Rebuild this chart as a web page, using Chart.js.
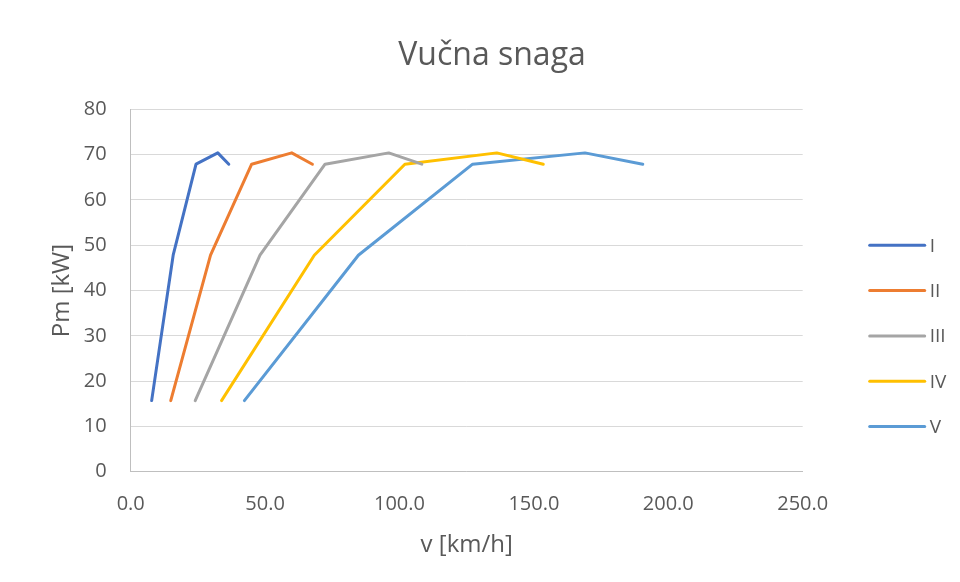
<!DOCTYPE html>
<html>
<head>
<meta charset="utf-8">
<script src="https://cdn.jsdelivr.net/npm/chart.js@4/dist/chart.umd.min.js"></script>
<style>
  html, body { margin: 0; padding: 0; background: #fff; }
  #wrap { width: 960px; height: 582px; position: relative; }
</style>
</head>
<body>
<div id="wrap"><canvas id="vucnaChart"></canvas></div>
<script>
// snaga motora (kW) u tackama mjerenja - ista za sve stepene prenosa
const snaga = [15.7, 47.8, 67.9, 70.4, 67.9];

// brzine (km/h) po stepenu prenosa
const brzinaI = [7.8, 15.8, 24.3, 32.4, 36.5];
const brzinaII = [14.9, 29.7, 45.0, 59.9, 67.6];
const brzinaIII = [24.0, 48.1, 72.3, 96.0, 108.3];
const brzinaIV = [33.8, 68.3, 102.0, 136.2, 153.5];
const brzinaV = [42.3, 84.7, 127.2, 169.0, 190.5];

const stepeni = ["I", "II", "III", "IV", "V"];
const brzine = [brzinaI, brzinaII, brzinaIII, brzinaIV, brzinaV];
const boje = ["#4472C4", "#ED7D31", "#A5A5A5", "#FFC000", "#5B9BD5"];

const xTicks = [0, 50, 100, 150, 200, 250];
const yTicks = [0, 10, 20, 30, 40, 50, 60, 70, 80];

const sivaTekst = "#595959";

Chart.defaults.font.family = "'Open Sans', 'Noto Sans', sans-serif";
Chart.defaults.color = sivaTekst;

function tacke(v) {
    return v.map((x, i) => ({ x: x, y: snaga[i] }));
}

// legenda desno, linija + tekst
const legendaDesno = {
    id: "legendaDesno",
    afterDraw(chart) {
        const ctx = chart.ctx;
        const x0 = chart.chartArea.right + 67;
        const y0 = 245.3;
        const korak = 45.3;
        ctx.save();
        chart.data.datasets.forEach((ds, i) => {
            const y = y0 + i * korak;
            ctx.beginPath();
            ctx.lineWidth = 3;
            ctx.lineCap = "round";
            ctx.strokeStyle = ds.borderColor;
            ctx.moveTo(x0, y);
            ctx.lineTo(x0 + 55, y);
            ctx.stroke();
            ctx.fillStyle = sivaTekst;
            ctx.font = "19px 'Open Sans'";
            ctx.textBaseline = "middle";
            ctx.textAlign = "left";
            ctx.fillText(ds.label, x0 + 60, y + 1);
        });
        ctx.restore();
    }
};

const ctx = document.getElementById("vucnaChart").getContext("2d");

new Chart(ctx, {
    type: "scatter",
    data: {
        datasets: stepeni.map((s, i) => ({
            label: s,
            data: tacke(brzine[i]),
            showLine: true,
            borderColor: boje[i],
            backgroundColor: boje[i],
            borderWidth: 3,
            borderCapStyle: "round",
            borderJoinStyle: "round",
            pointRadius: 0,
            pointHoverRadius: 0,
            tension: 0
        }))
    },
    options: {
        responsive: true,
        maintainAspectRatio: false,
        animation: false,
        layout: {
            padding: { left: 24, bottom: 22.6, top: 0, right: 0 }
        },
        plugins: {
            legend: { display: false },
            tooltip: { enabled: false },
            title: {
                display: true,
                text: "Vučna snaga",
                color: sivaTekst,
                font: { size: 32, weight: "normal" },
                padding: { top: 36.4, bottom: 34.6 }
            }
        },
        scales: {
            x: {
                type: "linear",
                min: xTicks[0],
                max: xTicks[xTicks.length - 1],
                afterBuildTicks: axis => { axis.ticks = xTicks.map(v => ({ value: v })); },
                afterFit: scale => {
                    scale.paddingRight = 157.3;
                    scale.height = 87.7;
                },
                grid: { display: false, drawTicks: false },
                border: { display: true, color: "#bfbfbf", width: 1 },
                ticks: {
                    padding: 20.3,
                    font: { size: 20 },
                    color: sivaTekst,
                    callback: v => Number(v).toFixed(1)
                },
                title: {
                    display: true,
                    text: "v [km/h]",
                    color: sivaTekst,
                    font: { size: 24 },
                    padding: { top: 14.6, bottom: 0 }
                }
            },
            y: {
                type: "linear",
                min: yTicks[0],
                max: yTicks[yTicks.length - 1],
                afterBuildTicks: axis => { axis.ticks = yTicks.map(v => ({ value: v })); },
                afterFit: scale => { scale.width = 106.7; },
                grid: { color: "#d9d9d9", lineWidth: 1, drawTicks: false },
                border: { display: true, color: "#bfbfbf", width: 1 },
                ticks: {
                    padding: 24,
                    font: { size: 20 },
                    color: sivaTekst
                },
                title: {
                    display: true,
                    text: "Pm [kW]",
                    color: sivaTekst,
                    font: { size: 24 },
                    padding: { top: 23.6, bottom: 0 }
                }
            }
        }
    },
    plugins: [legendaDesno]
});
</script>
</body>
</html>
